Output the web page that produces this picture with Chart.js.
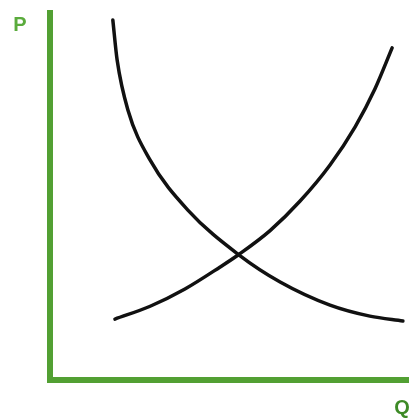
<!DOCTYPE html>
<html><head><meta charset="utf-8">
<script src="https://cdn.jsdelivr.net/npm/chart.js@4"></script>
<style>html,body{margin:0;padding:0;background:#fff}#wrap{width:409px;height:418px}</style>
</head><body><div id="wrap"><canvas id="c"></canvas></div>
<script>
const demandQ = [17.5, 18.7, 21.7, 27.9, 38.4, 52.6, 64.1, 78.0, 89.1, 98.3];
const demandP = [98.1, 87.2, 73.6, 59.9, 46.3, 34.1, 26.7, 20.4, 17.4, 16.1];
const supplyQ = [18.1, 27.9, 37.6, 47.4, 52.6, 61.3, 69.6, 78.0, 85.0, 90.5, 95.3];
const supplyP = [16.6, 20.1, 24.8, 30.8, 34.2, 40.7, 48.7, 58.6, 69.0, 79.3, 90.5];
const axisLabels = ['P', 'Q'];

const green = '#52a033';
const labelPlugin = {
  id: 'labels',
  afterDraw(chart) {
    const {ctx, chartArea} = chart;
    ctx.save();
    ctx.font = 'bold 20px "Liberation Sans", Arial, sans-serif';
    ctx.textAlign = 'center';
    ctx.textBaseline = 'middle';
    ctx.fillStyle = '#5aab3c';
    ctx.fillText(axisLabels[0], chartArea.left - 30, chartArea.top + 12);
    ctx.fillStyle = '#3d8a26';
    ctx.fillText(axisLabels[1], chartArea.right - 7, chartArea.bottom + 28);
    ctx.restore();
  }
};
const lineStyle = {showLine: true, borderColor: '#111', borderWidth: 3.5, pointRadius: 0, cubicInterpolationMode: 'monotone', fill: false, borderCapStyle: 'round'};
new Chart(document.getElementById('c'), {
  type: 'scatter',
  data: {
    datasets: [
      Object.assign({data: demandQ.map((q, i) => ({x: q, y: demandP[i]}))}, lineStyle),
      Object.assign({data: supplyQ.map((q, i) => ({x: q, y: supplyP[i]}))}, lineStyle)
    ]
  },
  options: {
    responsive: true, maintainAspectRatio: false, animation: false,
    layout: {padding: {left: 50, top: 13, right: 0, bottom: 38}},
    plugins: {legend: {display: false}, tooltip: {enabled: false}},
    scales: {
      x: {min: 0, max: 100, grid: {display: false}, ticks: {display: false}, border: {color: green, width: 6},
          afterFit(s) { s.height = 0; }},
      y: {min: 0, max: 100, grid: {display: false}, ticks: {display: false}, border: {color: green, width: 6},
          afterFit(s) { s.width = 0; }}
    }
  },
  plugins: [labelPlugin]
});
</script></body></html>
